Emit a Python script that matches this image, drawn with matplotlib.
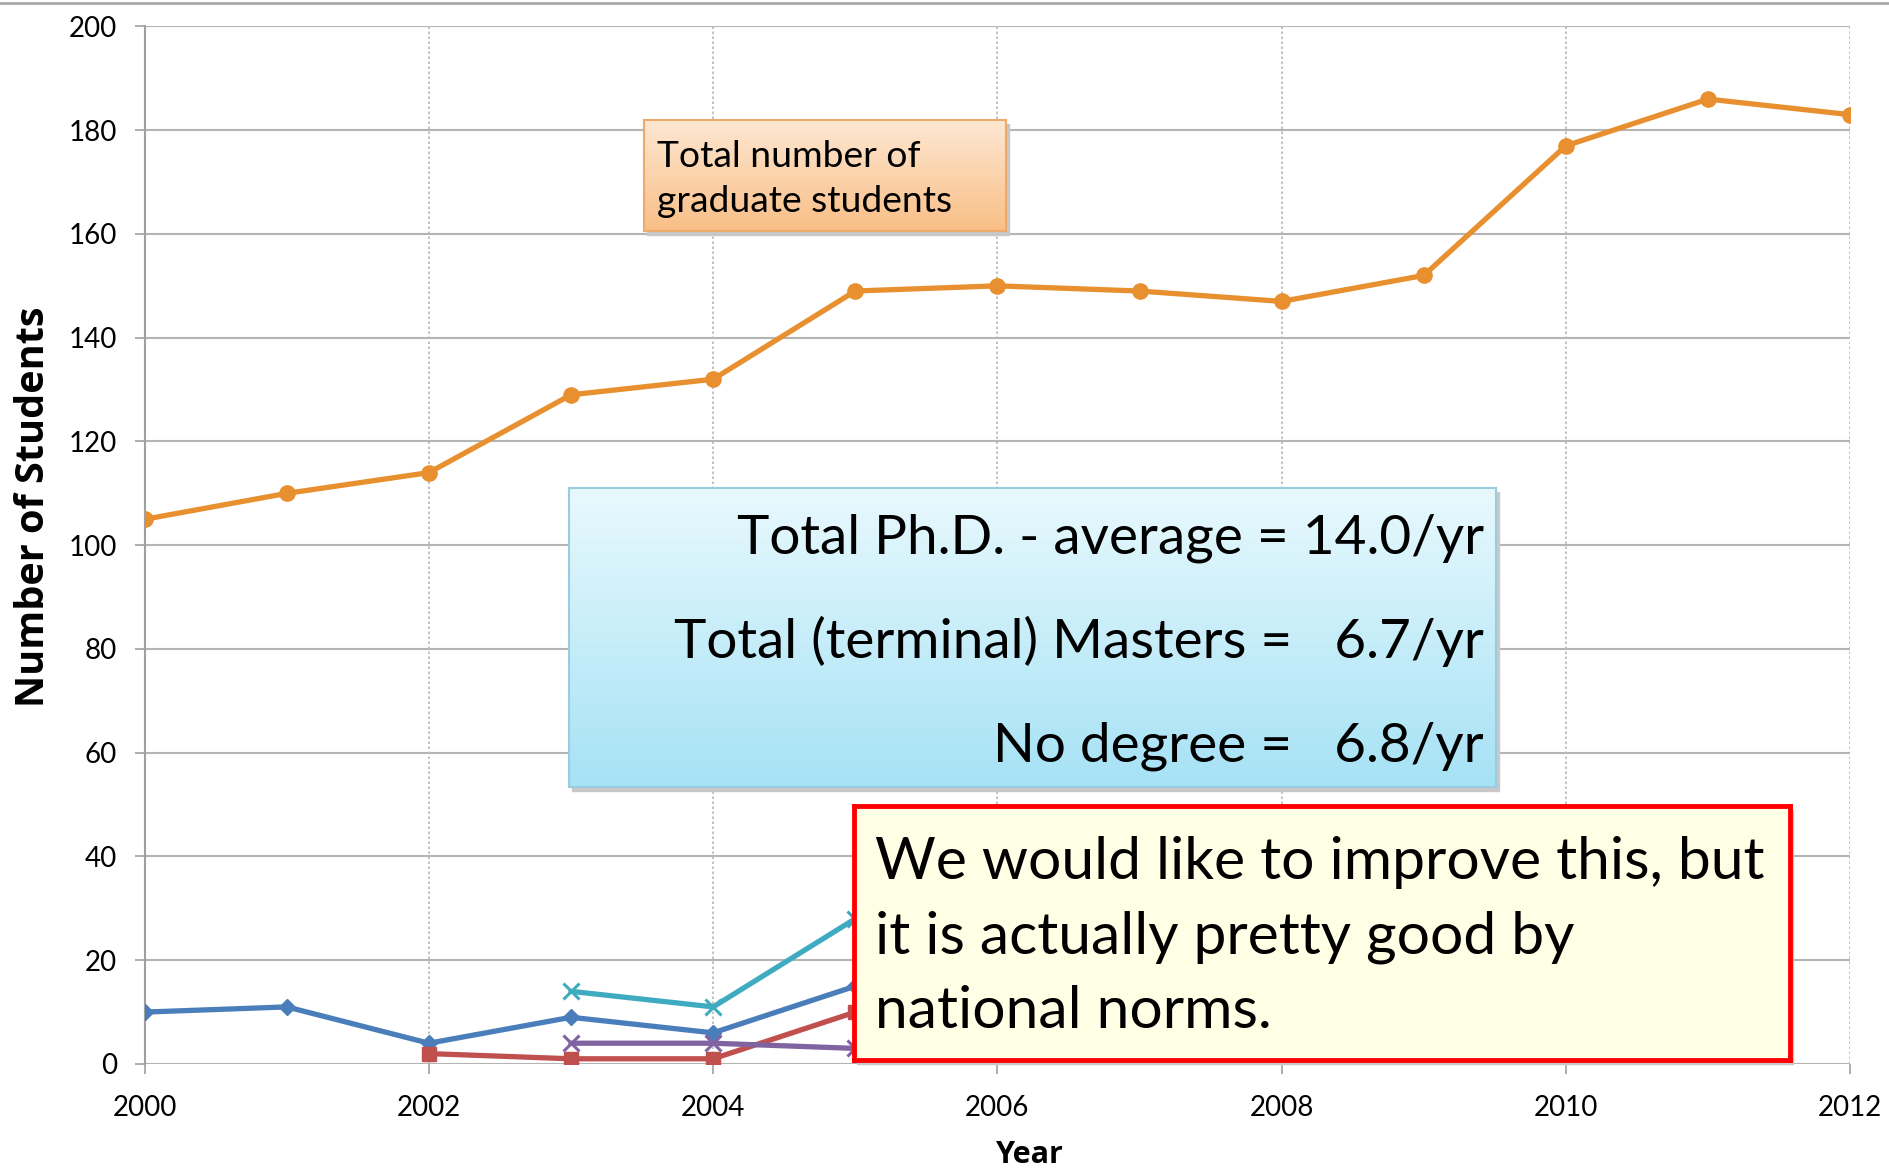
import matplotlib.pyplot as plt
import numpy as np
from matplotlib.lines import Line2D
from matplotlib.patches import Rectangle

plt.rcParams['font.family'] = ['Lato', 'DejaVu Sans']

# data
years = [2000, 2001, 2002, 2003, 2004, 2005, 2006, 2007, 2008, 2009, 2010, 2011, 2012]
total = [105, 110, 114, 129, 132, 149, 150, 149, 147, 152, 177, 186, 183]

phd_years = [2000, 2001, 2002, 2003, 2004, 2005]
phd = [10, 11, 4, 9, 6, 15]

cyan_years = [2003, 2004, 2005]
cyan = [14, 11, 28]

masters_years = [2002, 2003, 2004, 2005]
masters = [2, 1, 1, 10]

purple_years = [2003, 2004, 2005]
purple = [4, 4, 3]

xticks = [2000, 2002, 2004, 2006, 2008, 2010, 2012]
yticks = list(range(0, 201, 20))

fig = plt.figure(figsize=(18.89, 11.71), dpi=100)
ax = fig.add_axes([0.0766, 0.0914, 0.9028, 0.886])

for y in yticks:
    ax.axhline(y, color='#b4b4b4', lw=1.5, zorder=0)
for x in xticks[1:]:
    ax.axvline(x, color='#b8b8b8', lw=1.2, ls=(0, (1.5, 1.5)), zorder=0)

ax.plot(years, total, '-o', color='#e8902f', lw=3.8, ms=11, zorder=3)
ax.plot(phd_years, phd, '-D', color='#4a7ebb', lw=3.8, ms=8, zorder=3)
ax.plot(cyan_years, cyan, '-x', color='#3fabc0', lw=3.8, ms=11, mew=2.2, zorder=3)
ax.plot(masters_years, masters, '-s', color='#c0504d', lw=3.8, ms=10, zorder=3)
ax.plot(purple_years, purple, '-x', color='#8064a2', lw=3.8, ms=11, mew=2.2, zorder=3)

ax.set_xlim(2000, 2012)
ax.set_ylim(0, 200)
ax.set_xticks(xticks)
ax.set_yticks(yticks)
ax.tick_params(axis='both', labelsize=20, color='#a0a0a0', length=7, width=1.2)
ax.tick_params(axis='x', pad=15)
ax.tick_params(axis='y', pad=13)
for s in ['top', 'right', 'bottom']:
    ax.spines[s].set_visible(False)
ax.spines['left'].set_color('#a0a0a0')
ax.spines['left'].set_linewidth(1.5)

ax.set_ylabel('Number of Students', fontsize=28.5, fontweight='bold',
              family=['Open Sans', 'DejaVu Sans'])
ax.yaxis.set_label_coords(-0.054, 0.537)
ax.set_xlabel('Year', fontsize=22, fontweight='bold',
              family=['Open Sans', 'DejaVu Sans'])
ax.xaxis.set_label_coords(0.519, -0.073)

# slide border line at top
fig.add_artist(Line2D([0, 1], [0.9975, 0.9975], color='#a8a8a8', lw=2))

W, H = 1889.0, 1171.0


def grad_box(rect, top, bottom, edge, elw):
    x0, y0, x1, y1 = rect
    # soft shadow
    fig.add_artist(Rectangle(((x0 + 3) / W, 1 - (y1 + 4) / H), (x1 - x0) / W, (y1 - y0) / H,
                             transform=fig.transFigure, color='#c8c8c8', zorder=0.5))
    bax = fig.add_axes([x0 / W, 1 - y1 / H, (x1 - x0) / W, (y1 - y0) / H], zorder=1)
    c1 = np.array(plt.matplotlib.colors.to_rgb(top))
    c2 = np.array(plt.matplotlib.colors.to_rgb(bottom))
    t = np.linspace(0, 1, 100)[:, None]
    img = (c1 * (1 - t) + c2 * t)[:, None, :]
    bax.imshow(img, aspect='auto', extent=[0, 1, 0, 1], origin='upper')
    bax.set_xlim(0, 1)
    bax.set_ylim(0, 1)
    bax.set_xticks([])
    bax.set_yticks([])
    for s in bax.spines.values():
        s.set_color(edge)
        s.set_linewidth(elw)
    return bax


# annotation boxes (pixel rects)
b1 = grad_box((644, 120, 1006, 231), '#fde7d2', '#f9bf87', '#eeaa6a', 1.5)
b1.text(0.035, 0.47, 'Total number of\ngraduate students', fontsize=26.8,
        va='center', ha='left', linespacing=1.45)

b2 = grad_box((569, 488, 1496, 787), '#e8f9fd', '#a6e2f5', '#9ccbe0', 1.5)
for yy, s in zip([0.833, 0.488, 0.137],
                 ['Total Ph.D. - average = 14.0/yr',
                  'Total (terminal) Masters =   6.7/yr',
                  'No degree =   6.8/yr']):
    b2.text(0.987, yy, s, fontsize=39.5, ha='right', va='center')

b3 = grad_box((854, 806, 1790, 1060), '#ffffe6', '#ffffe6', '#ff0000', 3.5)
b3.text(0.022, 0.485, 'We would like to improve this, but\nit is actually pretty good by\nnational norms.',
        fontsize=42.3, ha='left', va='center', linespacing=1.5)

plt.savefig('out.png', dpi=100)
